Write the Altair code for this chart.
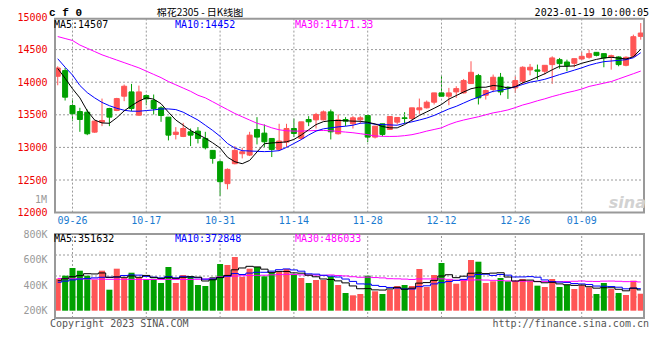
import altair as alt
import pandas as pd

# ---------------- data ----------------
opens = [14091, 14178, 13642, 13550, 13540, 13234, 13387, 13596, 13566, 13785,
         13851, 13494, 13795, 13719, 13607, 13464, 13199, 13168, 13239, 13250,
         13137, 12954, 12780, 12444, 12750, 12903, 12882, 13275, 13219, 13137,
         12969, 13081, 13290, 13137, 13428, 13423, 13423, 13545, 13209, 13428,
         13362, 13423, 13489, 13158, 13362, 13275, 13387, 13454, 13443, 13576,
         13607, 13693, 13836, 13785, 13851, 13836, 13979, 14101, 13800, 13887,
         14076, 13923, 13913, 14015, 14188, 14188, 14168, 14270, 14346, 14310,
         14290, 14356, 14382, 14458, 14438, 14387, 14387, 14259, 14397, 14703]
closes = [14218, 13770, 13515, 13428, 13209, 13403, 13413, 13464, 13749, 13938,
          13596, 13851, 13744, 13596, 13489, 13188, 13234, 13290, 13188, 13137,
          12995, 12831, 12474, 12663, 12954, 12933, 13188, 13158, 13086, 12969,
          13097, 13290, 13214, 13392, 13392, 13505, 13545, 13239, 13423, 13403,
          13454, 13454, 13158, 13326, 13199, 13474, 13459, 13443, 13607, 13607,
          13693, 13836, 13785, 13836, 13902, 14025, 14152, 13760, 13872, 14076,
          13851, 13913, 14025, 14229, 14229, 14168, 14259, 14372, 14285, 14254,
          14361, 14397, 14438, 14412, 14372, 14407, 14270, 14382, 14698, 14754]
highs = [14244, 14219, 13749, 13607, 13581, 13413, 13749, 13607, 13760, 13964,
         13974, 13948, 13811, 13811, 13632, 13464, 13311, 13377, 13290, 13311,
         13239, 12954, 12801, 12678, 13020, 12995, 13239, 13464, 13352, 13137,
         13362, 13362, 13443, 13392, 13479, 13530, 13566, 13581, 13505, 13464,
         13479, 13479, 13489, 13326, 13362, 13474, 13459, 13540, 13607, 13749,
         13719, 13836, 14101, 13913, 13938, 14050, 14321, 14127, 13887, 14117,
         14142, 13938, 14091, 14244, 14280, 14270, 14259, 14397, 14372, 14346,
         14361, 14463, 14499, 14458, 14438, 14423, 14397, 14397, 14729, 14907]
lows = [13953, 13719, 13402, 13239, 13188, 13224, 13326, 13326, 13556, 13709,
        13556, 13489, 13647, 13505, 13392, 13107, 13122, 13158, 13020, 13061,
        12969, 12750, 12255, 12357, 12740, 12831, 12867, 13046, 13005, 12852,
        12944, 13005, 13158, 13117, 13326, 13290, 13413, 13122, 13198, 13326,
        13290, 13362, 13081, 13137, 13168, 13275, 13352, 13362, 13403, 13515,
        13596, 13658, 13780, 13647, 13760, 13826, 13979, 13658, 13734, 13846,
        13800, 13744, 13836, 13964, 14106, 14040, 14117, 13974, 14208, 14168,
        14229, 14346, 14361, 14397, 14229, 14193, 14244, 14244, 14382, 14652]
ma5 = [14210, 14060, 13900, 13760, 13560, 13420, 13375, 13370, 13455, 13560,
       13640, 13710, 13760, 13740, 13670, 13540, 13420, 13340, 13260, 13200,
       13140, 13070, 12990, 12850, 12780, 12750, 12800, 12930, 13056, 13068,
       13075, 13085, 13122, 13190, 13270, 13350, 13395, 13410, 13413, 13408,
       13403, 13400, 13385, 13360, 13320, 13300, 13300, 13350, 13420, 13490,
       13545, 13600, 13658, 13740, 13795, 13850, 13900, 13923, 13923, 13950,
       13938, 13910, 13930, 13990, 14030, 14080, 14130, 14190, 14244, 14244,
       14250, 14290, 14320, 14350, 14372, 14382, 14370, 14356, 14390, 14507]
ma10 = [14360, 14230, 14110, 13950, 13840, 13760, 13690, 13640, 13600, 13570,
        13555, 13555, 13565, 13575, 13590, 13590, 13580, 13540, 13480, 13420,
        13340, 13260, 13170, 13060, 12990, 12950, 12945, 12940, 12935, 12940,
        12950, 13000, 13060, 13120, 13190, 13250, 13285, 13300, 13315, 13325,
        13340, 13370, 13375, 13355, 13350, 13345, 13340, 13370, 13392, 13420,
        13450, 13490, 13540, 13590, 13630, 13680, 13730, 13770, 13820, 13860,
        13875, 13900, 13930, 13965, 14000, 14020, 14045, 14080, 14117, 14150,
        14185, 14220, 14260, 14290, 14315, 14325, 14335, 14345, 14375, 14452]
ma30 = [14700, 14670, 14640, 14570, 14520, 14470, 14420, 14380, 14340, 14300,
        14260, 14220, 14170, 14120, 14070, 14010, 13960, 13910, 13860, 13800,
        13760, 13700, 13640, 13580, 13520, 13470, 13420, 13370, 13340, 13300,
        13270, 13255, 13250, 13250, 13255, 13260, 13260, 13255, 13245, 13235,
        13225, 13210, 13195, 13175, 13170, 13168, 13170, 13180, 13195, 13220,
        13250, 13275, 13300, 13350, 13390, 13420, 13445, 13470, 13500, 13530,
        13550, 13575, 13610, 13650, 13680, 13715, 13745, 13780, 13810, 13840,
        13865, 13895, 13935, 13960, 13985, 14010, 14050, 14090, 14130, 14171]

# volumes in thousands (K)
vols = [541, 592, 722, 676, 592, 524, 676, 355, 710, 553,
        642, 558, 519, 541, 468, 739, 468, 603, 586, 434,
        417, 570, 789, 772, 908, 570, 710, 739, 581, 637,
        654, 705, 620, 553, 468, 519, 519, 578, 434, 299,
        260, 282, 592, 328, 282, 355, 417, 434, 417, 705,
        401, 603, 806, 524, 456, 524, 857, 828, 468, 497,
        553, 497, 497, 536, 502, 423, 401, 536, 401, 434,
        367, 429, 395, 282, 468, 367, 299, 265, 507, 287]
vol_ma5 = [507, 540, 575, 592, 625, 621, 638, 565, 571, 564,
           587, 564, 596, 563, 546, 565, 547, 564, 573, 566,
           502, 522, 559, 596, 691, 722, 750, 740, 702, 647,
           664, 663, 639, 634, 600, 573, 536, 527, 504, 470,
           418, 371, 373, 352, 349, 368, 395, 363, 381, 466,
           475, 512, 586, 608, 558, 583, 633, 638, 627, 635,
           641, 569, 502, 516, 517, 491, 472, 480, 453, 439,
           428, 433, 405, 381, 388, 388, 362, 336, 381, 352]
vol_ma10 = [480, 500, 520, 535, 545, 555, 565, 565, 568, 595,
            604, 601, 580, 567, 555, 576, 555, 580, 568, 556,
            533, 534, 561, 584, 628, 612, 636, 649, 649, 669,
            693, 706, 689, 668, 623, 618, 599, 583, 569, 535,
            495, 453, 450, 428, 409, 393, 383, 368, 366, 407,
            421, 453, 474, 494, 512, 529, 572, 612, 617, 596,
            612, 601, 570, 571, 576, 566, 520, 491, 484, 478,
            459, 452, 442, 417, 413, 408, 397, 370, 381, 373]
vol_ma30 = [545, 543, 540, 538, 536, 534, 532, 530, 530, 530,
            530, 528, 528, 528, 528, 528, 528, 528, 528, 530,
            535, 550, 570, 580, 585, 590, 595, 598, 600, 606,
            610, 614, 611, 606, 602, 602, 597, 604, 595, 587,
            574, 565, 567, 560, 554, 541, 539, 534, 528, 537,
            537, 538, 538, 530, 515, 513, 518, 521, 518, 513,
            509, 503, 498, 498, 499, 496, 492, 490, 489, 494,
            497, 502, 496, 494, 500, 501, 497, 491, 494, 486]

tick_idx = [2, 12, 22, 32, 42, 52, 62, 71]
tick_labels = ["09-26", "10-17", "10-31", "11-14", "11-28", "12-12", "12-26", "01-09"]
price_ticks = [12000, 12500, 13000, 13500, 14000, 14500, 15000]
vol_ticks = [200, 400, 600, 800]

# ---------------- styles / scales ----------------
MONO = "DejaVu Sans Mono"
RED = "#FF5555"
GREEN = "#00A000"
GRID = "#9A9A9A"
DASH = [2, 2]
FRAME = "#999999"
W, H = 599, 301
X_LO, X_HI = -0.37, 79.44
P_BOTTOM = 195.6
VMIN, VMAX = -123.4, 1296.2

# ---------------- tables ----------------
n = len(closes)
dirs = ["up" if c >= o else "down" for o, c in zip(opens, closes)]
price_df = pd.DataFrame({"i": list(range(n)), "open": opens, "close": closes,
                         "high": highs, "low": lows, "dir": dirs,
                         "ma5": ma5, "ma10": ma10, "ma30": ma30})
vol_df = pd.DataFrame({"i": list(range(n)), "vol": vols, "dir": dirs,
                       "ma5": vol_ma5, "ma10": vol_ma10, "ma30": vol_ma30})
ticks_df = pd.DataFrame({"i": tick_idx, "label": tick_labels})
vlab_df = pd.DataFrame({"v": vol_ticks})
# horizontal grid lines: each level runs from the left edge to the right edge of the x scale
pgrid_df = pd.DataFrame([{"p": p, "gx": gx} for p in price_ticks[1:-1] for gx in (X_LO, X_HI)])
vgrid_df = pd.DataFrame([{"g": VMIN + (VMAX - VMIN) * q, "gx": gx}
                         for q in (0.25, 0.5, 0.75) for gx in (X_LO, X_HI)])


def pscale():
    return alt.Scale(domain=[12000, 15000], range=[P_BOTTOM, 0], nice=False, zero=False)


def vscale():
    return alt.Scale(domain=[VMIN, VMAX], range=[H, 217], nice=False, zero=False)


xscale = alt.Scale(domain=[X_LO, X_HI], nice=False, zero=False)
lscale = alt.Scale(domain=[141.2, 800], range=[H, 217], nice=False, zero=False)
cscale = alt.Scale(domain=["up", "down"], range=[RED, GREEN])

paxis = alt.Axis(values=price_ticks, orient="left", title=None, grid=False, format="d",
                 ticks=False, domain=False,
                 labelColor="#EE0000", labelFont=MONO, labelFontSize=10,
                 labelPadding=3, labelOverlap=False, labelFlush=False)
laxis = alt.Axis(values=vol_ticks, orient="left", title=None, grid=False,
                 ticks=False, domain=False, labelExpr="datum.value + 'K'",
                 labelColor="#999999", labelFont=MONO, labelFontSize=10,
                 labelPadding=3, labelOverlap=False, labelFlush=False)


def X():
    return alt.X("i:Q", scale=xscale, axis=None)


def XL():
    return alt.XDatum(X_LO, scale=xscale, axis=None)


color_enc = alt.Color("dir:N", scale=cscale, legend=None)
stroke_enc = alt.Stroke("dir:N", scale=cscale, legend=None)
one = alt.Data(values=[{}])


def label(text, x, y, color="#000000", align="left", font=MONO, size=10, weight="normal",
          style="normal"):
    return alt.Chart(one).mark_text(text=text, align=align, baseline="middle", font=font,
                                    fontSize=size, color=color, fontWeight=weight,
                                    fontStyle=style).encode(x=alt.value(x), y=alt.value(y))


# ---------------- price panel ----------------
pbase = alt.Chart(price_df)
wick = pbase.mark_rule(strokeWidth=1).encode(
    x=X(), y=alt.Y("low:Q", scale=pscale(), axis=paxis), y2="high:Q", color=color_enc)
grid_px = alt.Chart(ticks_df).mark_rule(color=GRID, strokeDash=DASH, strokeWidth=1).encode(
    x=X(), y=alt.YDatum(12000, scale=pscale(), axis=None), y2=alt.Y2Datum(15000))
grid_py = alt.Chart(pgrid_df).mark_line(color=GRID, strokeDash=DASH, strokeWidth=1).encode(
    x=alt.X("gx:Q", scale=xscale, axis=None),
    y=alt.Y("p:Q", scale=pscale(), axis=None), detail="p:N")
date_labels = alt.Chart(ticks_df).mark_text(
    font=MONO, fontSize=10, color="#1A7BD0", baseline="middle", align="center").encode(
    x=X(), y=alt.value(204), text="label:N")
body = pbase.mark_bar(size=5, strokeWidth=1).encode(
    x=X(), y=alt.Y("open:Q", scale=pscale(), axis=None), y2="close:Q",
    color=color_enc, stroke=stroke_enc)
l30 = pbase.mark_line(color="#FF00FF", strokeWidth=1).encode(
    x=X(), y=alt.Y("ma30:Q", scale=pscale(), axis=None))
l10 = pbase.mark_line(color="#0000FF", strokeWidth=1).encode(
    x=X(), y=alt.Y("ma10:Q", scale=pscale(), axis=None))
l5 = pbase.mark_line(color="#000000", strokeWidth=1).encode(
    x=X(), y=alt.Y("ma5:Q", scale=pscale(), axis=None))
frame_p = alt.Chart(one).mark_rect(fillOpacity=0, stroke=FRAME, strokeWidth=2).encode(
    x=XL(), x2=alt.X2Datum(X_HI),
    y=alt.YDatum(12000, scale=pscale(), axis=None), y2=alt.Y2Datum(14975))

# ---------------- volume panel ----------------
vbase = alt.Chart(vol_df)
grid_vx = alt.Chart(ticks_df).mark_rule(color=GRID, strokeDash=DASH, strokeWidth=1).encode(
    x=X(), y=alt.YDatum(VMIN, scale=vscale(), axis=None), y2=alt.Y2Datum(VMAX))
grid_vy = alt.Chart(vgrid_df).mark_line(color=GRID, strokeDash=DASH, strokeWidth=1).encode(
    x=alt.X("gx:Q", scale=xscale, axis=None),
    y=alt.Y("g:Q", scale=vscale(), axis=None), detail="g:N")
vbars = vbase.mark_bar(size=6).encode(
    x=X(), y=alt.Y("vol:Q", scale=vscale(), axis=None), y2=alt.Y2Datum(0), color=color_enc)
v30 = vbase.mark_line(color="#FF00FF", strokeWidth=1, interpolate="step").encode(
    x=X(), y=alt.Y("ma30:Q", scale=vscale(), axis=None))
v10 = vbase.mark_line(color="#0000FF", strokeWidth=1, interpolate="step").encode(
    x=X(), y=alt.Y("ma10:Q", scale=vscale(), axis=None))
v5 = vbase.mark_line(color="#000000", strokeWidth=1, interpolate="step").encode(
    x=X(), y=alt.Y("ma5:Q", scale=vscale(), axis=None))
frame_v = alt.Chart(one).mark_rect(fillOpacity=0, stroke=FRAME, strokeWidth=2).encode(
    x=XL(), x2=alt.X2Datum(X_HI),
    y=alt.YDatum(VMIN, scale=vscale(), axis=None), y2=alt.Y2Datum(VMAX))
vol_labels = alt.Chart(vlab_df).mark_point(opacity=0).encode(
    y=alt.Y("v:Q", scale=lscale, axis=laxis))

texts = [
    label("c f 0", -1, -4, font="Liberation Mono", size=11, weight="bold"),
    label("棉花2305 - 日K线图", 150, -4, align="center", font="Noto Sans CJK SC", size=10),
    label("2023-01-19 10:00:05", 599, -4, align="right"),
    label("MA5:14507", 4, 7.5),
    label("MA10:14452", 125, 7.5, color="#0000FF"),
    label("MA30:14171.33", 245, 7.5, color="#FF00FF"),
    label("1M", -3, 183, color="#999999", align="right"),
    label("sina", 596, 186, color="#D2D2D2", align="right", font="DejaVu Sans",
          size=16, weight="bold", style="italic"),
    label("MA5:351632", 4, 221.5),
    label("MA10:372848", 125, 221.5, color="#0000FF"),
    label("MA30:486033", 245, 221.5, color="#FF00FF"),
    label("Copyright 2023 SINA.COM", 0, 307, color="#555555"),
    label("http://finance.sina.com.cn", 599, 307, color="#555555", align="right"),
]

chart = alt.layer(
    wick, grid_px, grid_py, date_labels, body, l30, l10, l5, frame_p,
    grid_vx, grid_vy, vbars, v30, v10, v5, frame_v, vol_labels,
    *texts,
).resolve_scale(
    y="independent"
).properties(
    width=W, height=H,
    autosize=alt.AutoSizeParams(type="none"),
    padding={"left": 42, "top": 9, "right": 3, "bottom": 17},
).configure_view(strokeWidth=0)

chart.save("out.html", embed_options={"renderer": "svg", "actions": False})
